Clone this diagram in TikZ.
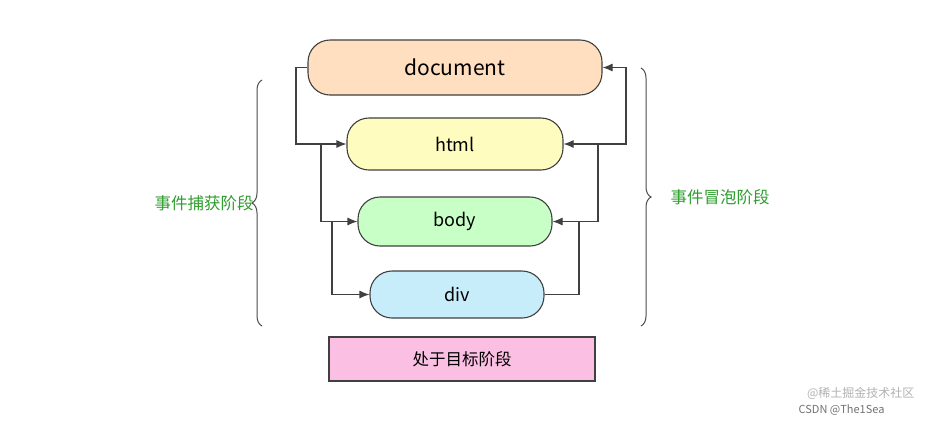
\documentclass[tikz,border=0pt]{standalone}
\usepackage{fontspec}
\setmainfont{Noto Sans CJK SC}
\usetikzlibrary{arrows.meta,decorations.pathreplacing}
\definecolor{gr}{HTML}{2E9E2E}
\begin{document}
\begin{tikzpicture}[x=1pt,y=-1pt,
  box/.style={draw=black!75,line width=1.1pt,rounded corners=22pt,inner sep=0pt},
  con/.style={draw=black!75,line width=1.1pt},
  arr/.style={con,-{Latex[length=10pt,width=8pt]}},
  brace/.style={draw=black!70,line width=1pt,decorate,decoration={brace,amplitude=10pt}},
  lab/.style={text=gr,font=\fontsize{16.5}{18}\selectfont}]
\useasboundingbox[fill=white] (0,0) rectangle (928,424);
\node[box,fill=orange!25,minimum width=294pt,minimum height=55pt,font=\fontsize{21}{23}\selectfont] (doc) at (455,67.5) {document};
\node[box,fill=yellow!25,minimum width=216pt,minimum height=52pt,font=\fontsize{18}{20}\selectfont] (html) at (455,144) {html};
\node[box,fill=green!22,minimum width=194pt,minimum height=49pt,font=\fontsize{18}{20}\selectfont] (body) at (455,221.5) {body};
\node[box,fill=cyan!22,minimum width=174pt,minimum height=47pt,font=\fontsize{18}{20}\selectfont] (div) at (457,294.5) {div};
\node[draw=black!75,line width=1.1pt,fill=magenta!25,minimum width=266pt,minimum height=44pt,inner sep=0pt,font=\fontsize{16.5}{18}\selectfont] (tgt) at (462,359) {处于目标阶段};
% capture
\draw[arr] (doc.west) -- (296,67.5) |- (html.west);
\draw[arr] (321,144) |- (body.west);
\draw[arr] (332,221.5) |- (div.west);
% bubble
\draw[arr] (div.east) -- (579,294.5) |- (body.east);
\draw[arr] (579,221.5) -- (598,221.5) |- (html.east);
\draw[arr] (598,144) -- (626,144) |- (doc.east);
% braces
\coordinate (lb1) at (262,326); \coordinate (lb2) at (262,80);
\draw[brace] (lb1) -- (lb2);
\coordinate (rb1) at (641,68); \coordinate (rb2) at (641,326);
\draw[brace] (rb1) -- (rb2);
\node[lab] (cap) at (204,203) {事件捕获阶段};
\node[lab] (bub) at (720,197) {事件冒泡阶段};
\node[text=black!30,font=\fontsize{12}{13}\selectfont,anchor=east] (wm1) at (918,393) {@稀土掘金技术社区};
\node[text=black!55,font=\fontsize{11}{12}\selectfont,anchor=east] (wm2) at (888,410) {CSDN @The1Sea};
\end{tikzpicture}
\end{document}
